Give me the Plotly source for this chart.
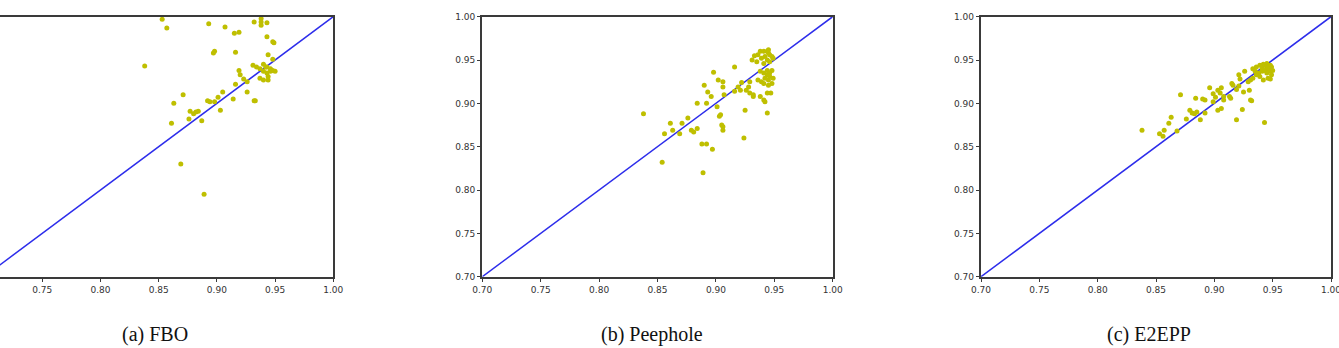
import plotly.graph_objects as go

# ---------------- data ----------------
fbo_x = [0.853, 0.857, 0.893, 0.907, 0.915, 0.919, 0.932, 0.938, 0.938, 0.938, 0.943, 0.943,
         0.948, 0.949, 0.897, 0.898, 0.916, 0.944, 0.838, 0.948,
         0.931, 0.934, 0.937, 0.940, 0.943, 0.946, 0.948, 0.950, 0.940, 0.943, 0.946, 0.944,
         0.940, 0.944, 0.937, 0.942,
         0.919, 0.920, 0.923, 0.916, 0.926, 0.926, 0.932, 0.933, 0.914, 0.905, 0.901, 0.898,
         0.892, 0.894, 0.903, 0.871, 0.863, 0.877, 0.882, 0.884, 0.880, 0.876, 0.887, 0.861,
         0.869, 0.889]
fbo_y = [0.997, 0.987, 0.992, 0.988, 0.981, 0.982, 0.994, 0.998, 0.994, 0.990, 0.993, 0.977,
         0.971, 0.970, 0.958, 0.960, 0.959, 0.956, 0.943, 0.951,
         0.944, 0.942, 0.940, 0.945, 0.942, 0.940, 0.938, 0.937, 0.937, 0.935, 0.937, 0.931,
         0.927, 0.927, 0.929, 0.942,
         0.938, 0.933, 0.928, 0.922, 0.925, 0.913, 0.903, 0.903, 0.905, 0.913, 0.907, 0.902,
         0.903, 0.902, 0.892, 0.910, 0.900, 0.891, 0.890, 0.891, 0.888, 0.882, 0.880, 0.877,
         0.830, 0.795]

peep_x = [0.838, 0.854, 0.856, 0.861, 0.863, 0.869, 0.871, 0.876, 0.879, 0.881, 0.884, 0.884,
          0.888, 0.892, 0.889, 0.897, 0.890, 0.893, 0.892, 0.896, 0.898, 0.901, 0.902, 0.903,
          0.904, 0.905, 0.906, 0.906, 0.906, 0.906, 0.907, 0.916, 0.916, 0.919, 0.921, 0.922,
          0.925, 0.924, 0.926, 0.928, 0.929, 0.932, 0.932, 0.931, 0.933, 0.929, 0.938, 0.941,
          0.942, 0.944, 0.944, 0.947,
          0.938, 0.941, 0.944, 0.945, 0.946, 0.948, 0.942, 0.939, 0.944, 0.946, 0.941, 0.945,
          0.936, 0.949, 0.935,
          0.938, 0.941, 0.944, 0.946, 0.948, 0.942, 0.945, 0.939, 0.936, 0.948, 0.945, 0.941,
          0.944, 0.949, 0.946]
peep_y = [0.888, 0.832, 0.865, 0.877, 0.869, 0.865, 0.877, 0.883, 0.869, 0.867, 0.871, 0.900,
          0.853, 0.853, 0.820, 0.847, 0.921, 0.913, 0.900, 0.908, 0.936, 0.896, 0.927, 0.885,
          0.887, 0.875, 0.869, 0.873, 0.925, 0.919, 0.910, 0.942, 0.914, 0.919, 0.915, 0.924,
          0.892, 0.860, 0.915, 0.919, 0.912, 0.908, 0.910, 0.950, 0.955, 0.925, 0.908, 0.904,
          0.902, 0.889, 0.912, 0.912,
          0.960, 0.960, 0.960, 0.958, 0.956, 0.954, 0.954, 0.952, 0.950, 0.948, 0.946, 0.962,
          0.956, 0.952, 0.948,
          0.937, 0.935, 0.933, 0.931, 0.938, 0.929, 0.927, 0.925, 0.927, 0.923, 0.921, 0.923,
          0.938, 0.929, 0.935]

e2epp_x = [0.838, 0.853, 0.856, 0.857, 0.861, 0.863, 0.871, 0.868, 0.876, 0.879, 0.881, 0.883,
           0.885, 0.884, 0.888, 0.890, 0.892, 0.892, 0.896, 0.899, 0.899, 0.901, 0.903, 0.903,
           0.905, 0.906, 0.906, 0.908, 0.908, 0.913, 0.914, 0.915, 0.916, 0.919, 0.919, 0.921,
           0.921, 0.922, 0.924, 0.925, 0.926, 0.929, 0.931, 0.930, 0.931, 0.932, 0.933, 0.943,
           0.933, 0.936, 0.939, 0.942, 0.945, 0.948, 0.949, 0.946, 0.943, 0.941, 0.938, 0.945,
           0.948, 0.949, 0.946, 0.942, 0.939, 0.936, 0.948, 0.945, 0.943, 0.941, 0.935, 0.950]
e2epp_y = [0.869, 0.865, 0.862, 0.869, 0.877, 0.884, 0.910, 0.868, 0.882, 0.892, 0.889, 0.888,
           0.890, 0.906, 0.881, 0.905, 0.904, 0.889, 0.918, 0.911, 0.902, 0.907, 0.892, 0.915,
           0.912, 0.918, 0.894, 0.908, 0.904, 0.908, 0.906, 0.923, 0.921, 0.881, 0.916, 0.920,
           0.933, 0.928, 0.893, 0.913, 0.937, 0.925, 0.927, 0.915, 0.904, 0.903, 0.929, 0.878,
           0.940, 0.942, 0.944, 0.945, 0.946, 0.944, 0.942, 0.940, 0.938, 0.937, 0.935, 0.935,
           0.937, 0.933, 0.929, 0.927, 0.931, 0.933, 0.928, 0.942, 0.944, 0.940, 0.937, 0.938]

diag = [0.70, 1.00]
tick_vals = [0.70, 0.75, 0.80, 0.85, 0.90, 0.95, 1.00]
tick_text = ["0.70", "0.75", "0.80", "0.85", "0.90", "0.95", "1.00"]
captions = ["(a) FBO", "(b) Peephole", "(c) E2EPP"]

# ---------------- figure ----------------
W, H = 1339, 348
fig = go.Figure()

panels = [(fbo_x, fbo_y), (peep_x, peep_y), (e2epp_x, e2epp_y)]
dot_color = "#bfbf00"
line_color = "rgb(45,45,235)"
frame_color = "#3a3a3a"

for i, (px, py) in enumerate(panels):
    ax = "" if i == 0 else str(i + 1)
    fig.add_trace(go.Scatter(x=diag, y=diag, mode="lines",
                             line=dict(color=line_color, width=1.5),
                             xaxis="x" + ax, yaxis="y" + ax, showlegend=False,
                             hoverinfo="skip"))
    fig.add_trace(go.Scatter(x=px, y=py, mode="markers",
                             marker=dict(color=dot_color, size=5, line=dict(width=0)),
                             xaxis="x" + ax, yaxis="y" + ax, showlegend=False))

y_dom = [1 - 276.7 / H, 1 - 16.7 / H]
x_doms = [[0.0, 333.3 / W], [482.3 / W, 832.7 / W], [981.0 / W, 1331.0 / W]]
x_ranges = [[0.7137, 1.0], [0.7, 1.0], [0.7, 1.0]]

tickfont = dict(family="DejaVu Sans", size=9, color="#333333")
layout = dict(width=W, height=H, margin=dict(l=0, r=0, t=0, b=0),
              paper_bgcolor="white", plot_bgcolor="white", showlegend=False)

for i in range(3):
    sfx = "" if i == 0 else str(i + 1)
    anchor_x = "y" + sfx
    anchor_y = "x" + sfx
    layout["xaxis" + sfx] = dict(domain=x_doms[i], range=x_ranges[i], anchor=anchor_x,
                                 tickmode="array", tickvals=tick_vals, ticktext=tick_text,
                                 ticks="outside", ticklen=3.5, tickwidth=1, tickcolor=frame_color,
                                 tickfont=tickfont, showgrid=False, zeroline=False,
                                 showline=True, linecolor=frame_color, linewidth=1.5,
                                 mirror=True, automargin=False, ticklabeloverflow="allow")
    if i == 0:
        layout["yaxis" + sfx] = dict(domain=y_dom, range=[0.7, 1.0], anchor=anchor_y,
                                     side="right", showticklabels=False, ticks="",
                                     showgrid=False, zeroline=False, automargin=False,
                                     showline=True, linecolor=frame_color, linewidth=1.5)
    else:
        layout["yaxis" + sfx] = dict(domain=y_dom, range=[0.7, 1.0], anchor=anchor_y,
                                     tickmode="array", tickvals=tick_vals, ticktext=tick_text,
                                     ticks="outside", ticklen=3.5, tickwidth=1,
                                     tickcolor=frame_color, tickfont=tickfont,
                                     showgrid=False, zeroline=False, automargin=False,
                                     showline=True, linecolor=frame_color, linewidth=1.5,
                                     mirror=True, ticklabeloverflow="allow")

cap_x = [155 / W, 652 / W, 1149 / W]
layout["annotations"] = [
    dict(text=captions[i], x=cap_x[i], y=1 - 334 / H, xref="paper", yref="paper",
         xanchor="center", yanchor="middle", showarrow=False, borderpad=0,
         font=dict(family="Liberation Serif", size=20, color="#111111"))
    for i in range(3)
]

fig.update_layout(**layout)
fig.write_html("out.html")
